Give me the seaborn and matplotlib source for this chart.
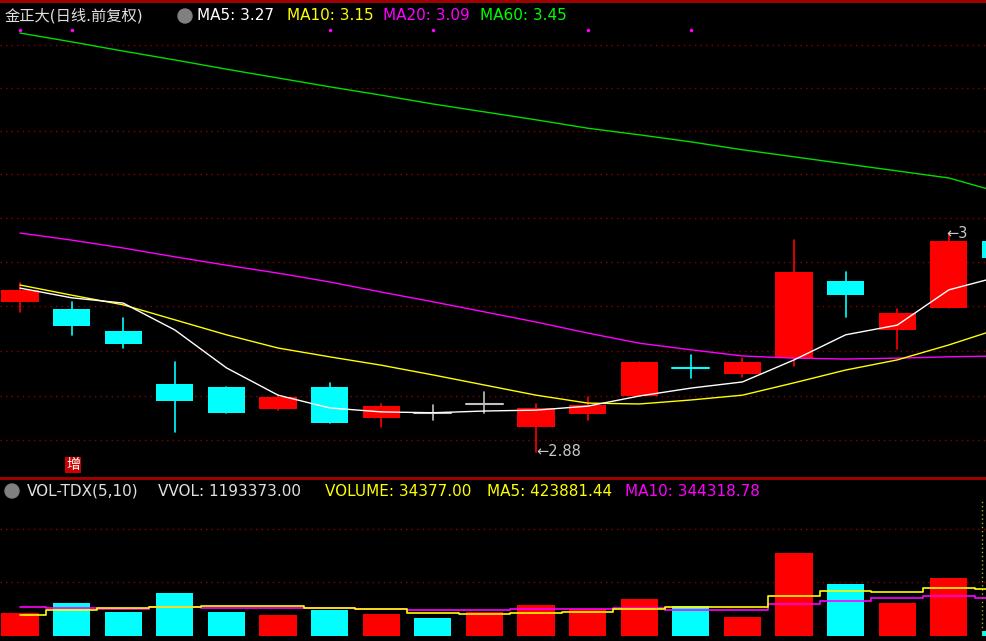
import matplotlib
matplotlib.use("Agg")
import matplotlib.pyplot as plt
from matplotlib.patches import Ellipse
import seaborn as sns
import numpy as np
import pandas as pd

sns.set_style("dark")
plt.rcParams['font.family'] = ['DejaVu Sans', 'Noto Sans CJK SC']

idx = list(range(20))
opens  = [3.230,3.214,3.164,3.043,3.037,2.987,3.037,2.966,2.978,2.998,2.946,2.975,3.016,3.080,3.066,3.102,3.277,3.166,3.216,3.368]
closes = [3.257,3.175,3.134,3.005,2.978,3.014,2.955,2.993,2.978,2.998,2.989,2.996,3.093,3.080,3.093,3.298,3.245,3.205,3.368,3.329]
highs  = [3.273,3.230,3.193,3.093,3.037,3.018,3.046,2.998,2.996,3.025,2.998,3.014,3.093,3.109,3.102,3.370,3.298,3.214,3.384,3.380]
lows   = [3.207,3.155,3.125,2.934,2.978,2.984,2.955,2.946,2.962,2.978,2.889,2.962,3.016,3.057,3.059,3.084,3.195,3.123,3.216,3.320]
ma5  = [3.261,3.239,3.227,3.166,3.080,3.018,2.989,2.980,2.978,2.982,2.984,2.993,3.016,3.034,3.048,3.098,3.155,3.177,3.257,3.288]
ma10 = [3.268,3.245,3.223,3.189,3.155,3.125,3.105,3.086,3.064,3.041,3.018,3.000,2.998,3.007,3.018,3.046,3.075,3.098,3.132,3.170]
ma20 = [3.386,3.370,3.352,3.332,3.313,3.295,3.275,3.252,3.230,3.207,3.184,3.159,3.136,3.121,3.107,3.102,3.100,3.102,3.105,3.107]
ma60 = [3.840,3.820,3.799,3.779,3.758,3.738,3.718,3.699,3.679,3.661,3.643,3.624,3.609,3.593,3.575,3.559,3.543,3.527,3.511,3.478]
volume = [253000,363000,264000,473000,264000,231000,286000,242000,198000,264000,341000,297000,407000,330000,209000,913000,572000,363000,638000,55000]
vol_ma5  = [231000,286000,308000,319000,330000,330000,308000,297000,253000,242000,253000,264000,297000,319000,319000,440000,495000,484000,528000,517000]
vol_ma10 = [319000,308000,297000,319000,308000,308000,308000,297000,286000,286000,297000,297000,308000,286000,286000,352000,385000,418000,440000,418000]

RED = "#ff0000"; CYAN = "#00ffff"; BG = "black"; GRID = "#8b0000"

fig = plt.figure(figsize=(9.86, 6.41), dpi=100, facecolor=BG)
W, H = 986, 641
def pos(y0, y1):
    return [0, 1 - y1 / H, 1, (y1 - y0) / H]

xlim = (-0.388, 18.72)
ax = fig.add_axes(pos(10, 475), facecolor=BG)
ax.set_xlim(*xlim)
pr = lambda y: 3.915 - 0.00227 * y
ax.set_ylim(pr(475), pr(10))
for gy in [45, 88, 131, 174, 218, 262, 306, 351, 396, 440]:
    ax.axhline(pr(gy), color=GRID, lw=1, ls=(0, (1, 3)))
bw = 0.72
for i in idx:
    o, c, h, l = opens[i], closes[i], highs[i], lows[i]
    if c > o:
        col = RED
    elif c < o:
        col = CYAN
    else:
        col = CYAN if i == 13 else "#c0c0c0"
    ax.plot([i, i], [l, h], color=col, lw=1.2, zorder=2)
    if c == o:
        ax.plot([i - bw / 2, i + bw / 2], [o, o], color=col, lw=1.5, zorder=3)
    else:
        ax.add_patch(plt.Rectangle((i - bw / 2, min(o, c)), bw, abs(c - o), color=col, lw=0, zorder=3))
df = pd.DataFrame({"i": idx, "ma5": ma5, "ma10": ma10, "ma20": ma20, "ma60": ma60})
for col, cl in [("ma60", "#00dd00"), ("ma20", "#ff00ff"), ("ma10", "#ffff00"), ("ma5", "#ffffff")]:
    sns.lineplot(data=df, x="i", y=col, color=cl, lw=1, ax=ax, zorder=4)
ax.text(10.0, 2.889, "←2.88", color="#c8c8c8", fontsize=10.5, va="center", ha="left")
ax.text(17.95, 3.384, "←3", color="#c8c8c8", fontsize=10.5, va="center", ha="left")
for xi in [0, 1, 6, 8, 11, 13]:
    ax.plot(xi, pr(30), ".", color="#ff00ff", ms=3)
ax.set_axis_off()

def header(y, items):
    for x, t, c in items:
        fig.text(x / W, 1 - y / H, t, color=c, fontsize=11, va="center", ha="left")
header(16, [(5, "金正大(日线.前复权)", "#e0e0e0"), (197, "MA5: 3.27", "#ffffff"),
            (287, "MA10: 3.15", "#ffff00"), (383, "MA20: 3.09", "#ff00ff"), (480, "MA60: 3.45", "#00ff00")])
header(491, [(27, "VOL-TDX(5,10)", "#e0e0e0"), (158, "VVOL: 1193373.00", "#e0e0e0"),
             (325, "VOLUME: 34377.00", "#ffff00"), (487, "MA5: 423881.44", "#ffff00"), (625, "MA10: 344318.78", "#ff00ff")])
for x, y in [(185, 16), (12, 491)]:
    fig.patches.append(Ellipse((x / W, 1 - y / H), 14 / W, 14 / H, transform=fig.transFigure, color="#808080"))
fig.text(73 / W, 1 - 465 / H, "增", color="white", fontsize=10, va="center", ha="center",
         bbox=dict(facecolor="#cc0000", edgecolor="none", pad=1))
fig.add_artist(plt.Line2D([0, 1], [1 - 1 / H, 1 - 1 / H], color="#aa0000", lw=2))
fig.add_artist(plt.Line2D([0, 1], [1 - 478 / H, 1 - 478 / H], color="#aa0000", lw=2))

vax = fig.add_axes(pos(500, 636), facecolor=BG)
vax.set_xlim(*xlim)
vv = lambda y: (636 - y) * 11000
vax.set_ylim(0, vv(500))
for gy in [529, 582]:
    vax.axhline(vv(gy), color=GRID, lw=1, ls=(0, (1, 3)))
colors = [RED if closes[i] >= opens[i] else CYAN for i in idx]
colors[8] = CYAN; colors[9] = RED; colors[13] = CYAN
vax.bar(idx, volume, width=bw, color=colors, linewidth=0, zorder=2)
vdf = pd.DataFrame({"i": idx, "m5": vol_ma5, "m10": vol_ma10})
sns.lineplot(data=vdf, x="i", y="m10", color="#ff00ff", lw=1.2, drawstyle="steps-mid", ax=vax, zorder=3)
sns.lineplot(data=vdf, x="i", y="m5", color="#ffff00", lw=1.2, drawstyle="steps-mid", ax=vax, zorder=4)
vax.axvline(18.65, color="#aaaa00", lw=1, ls=(0, (1, 2)))
vax.set_axis_off()

fig.savefig("out.png", dpi=100, facecolor=BG)
